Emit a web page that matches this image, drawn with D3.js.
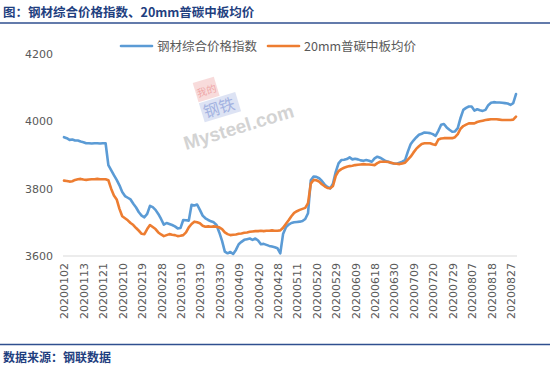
<!DOCTYPE html>
<html><head><meta charset="utf-8">
<script src="https://cdn.jsdelivr.net/npm/d3@7"></script>
<style>
body{margin:0;background:#fff;}
svg{display:block;}
</style></head>
<body><svg id="c" width="550" height="369"></svg>
<script>
const dates = ["20200102","20200103","20200106","20200107","20200108","20200109","20200110","20200113","20200114","20200115","20200116","20200117","20200119","20200120","20200121","20200122","20200123","20200204","20200205","20200206","20200207","20200210","20200211","20200212","20200213","20200214","20200217","20200218","20200219","20200220","20200221","20200224","20200225","20200226","20200227","20200228","20200302","20200303","20200304","20200305","20200306","20200309","20200310","20200311","20200312","20200313","20200316","20200317","20200318","20200319","20200320","20200323","20200324","20200325","20200326","20200327","20200330","20200331","20200401","20200402","20200403","20200407","20200408","20200409","20200410","20200413","20200414","20200415","20200416","20200417","20200420","20200421","20200422","20200423","20200424","20200426","20200427","20200428","20200429","20200430","20200506","20200507","20200508","20200509","20200511","20200512","20200513","20200514","20200515","20200518","20200519","20200520","20200521","20200522","20200525","20200526","20200527","20200528","20200529","20200601","20200602","20200603","20200604","20200605","20200608","20200609","20200610","20200611","20200612","20200615","20200616","20200617","20200618","20200619","20200622","20200623","20200624","20200628","20200629","20200630","20200701","20200702","20200703","20200706","20200707","20200708","20200709","20200710","20200713","20200714","20200715","20200716","20200717","20200720","20200721","20200722","20200723","20200724","20200727","20200728","20200729","20200730","20200731","20200803","20200804","20200805","20200806","20200807","20200810","20200811","20200812","20200813","20200814","20200817","20200818","20200819","20200820","20200821","20200824","20200825","20200826","20200827","20200828","20200831"];

const steelIndex = [3953,3950,3945,3946,3943,3943,3940,3938,3935,3935,3934,3935,3935,3934,3935,3935,3870,3855,3840,3826,3810,3790,3778,3773,3768,3755,3744,3730,3720,3715,3725,3749,3745,3737,3725,3710,3693,3698,3695,3692,3688,3682,3683,3707,3706,3705,3752,3750,3753,3737,3720,3712,3707,3703,3700,3692,3670,3645,3613,3608,3612,3606,3618,3635,3642,3648,3650,3652,3648,3652,3646,3635,3636,3633,3630,3628,3626,3623,3608,3665,3685,3693,3698,3700,3701,3702,3704,3710,3727,3825,3836,3835,3831,3823,3812,3805,3801,3815,3850,3875,3885,3886,3888,3893,3887,3889,3887,3884,3883,3885,3883,3880,3890,3895,3892,3887,3882,3880,3876,3875,3874,3877,3880,3885,3910,3932,3943,3952,3960,3963,3967,3966,3965,3962,3957,3972,3990,3992,3982,3975,3969,3970,3980,4010,4034,4040,4044,4044,4032,4036,4033,4031,4034,4048,4055,4057,4056,4056,4055,4054,4053,4049,4054,4081];

const plateAvg = [3824,3823,3821,3822,3826,3828,3829,3827,3826,3827,3828,3828,3829,3828,3828,3828,3825,3800,3780,3768,3740,3718,3712,3706,3698,3692,3683,3675,3666,3665,3680,3692,3686,3680,3670,3664,3659,3662,3665,3663,3662,3659,3660,3662,3670,3685,3695,3702,3700,3697,3690,3687,3688,3687,3688,3687,3685,3680,3670,3665,3662,3663,3664,3666,3667,3669,3670,3672,3673,3674,3674,3675,3674,3675,3675,3676,3675,3675,3676,3684,3695,3706,3718,3728,3733,3737,3740,3743,3757,3815,3826,3825,3821,3813,3807,3802,3801,3808,3838,3852,3858,3862,3865,3867,3868,3870,3871,3872,3873,3872,3872,3871,3870,3876,3880,3880,3880,3879,3877,3875,3874,3873,3875,3877,3886,3895,3907,3918,3926,3933,3935,3935,3935,3932,3930,3946,3949,3950,3950,3950,3950,3953,3962,3978,3986,3990,3994,3994,3994,3998,4000,4002,4004,4005,4006,4006,4006,4005,4004,4004,4004,4004,4005,4014];

const seriesNames = ["钢材综合价格指数","20mm普碳中板均价"];
const seriesColors = ["#5b9bd5","#ed7d31"];
const xTickLabels = ["20200102","20200113","20200121","20200210","20200219","20200228","20200310","20200319","20200330","20200409","20200420","20200428","20200511","20200520","20200529","20200609","20200618","20200630","20200709","20200720","20200729","20200807","20200818","20200827"];
const yTicks = [3600,3800,4000,4200];
const titleText = "图：钢材综合价格指数、20mm普碳中板均价";
const sourceText = "数据来源：钢联数据";

const svg = d3.select("#c");
const navy = "#1f3f7f";

// title
svg.append("text").attr("x",3).attr("y",17).text(titleText)
  .attr("font-family","'Noto Sans CJK SC',sans-serif").attr("font-weight","bold")
  .attr("font-size","12.5px").attr("fill",navy);
svg.append("line").attr("x1",0).attr("x2",550).attr("y1",23).attr("y2",23)
  .attr("stroke","#2f4f8f").attr("stroke-width",1.6);
// footer
svg.append("line").attr("x1",0).attr("x2",550).attr("y1",344.5).attr("y2",344.5)
  .attr("stroke","#2f4f8f").attr("stroke-width",1.6);
svg.append("text").attr("x",3).attr("y",362).text(sourceText)
  .attr("font-family","'Noto Sans CJK SC',sans-serif").attr("font-weight","bold")
  .attr("font-size","12px").attr("fill",navy);

const x = d3.scalePoint().domain(dates).range([64,516]);
const y = d3.scaleLinear().domain([3600,4200]).range([256,54]);

// watermark
const wm = svg.append("g").attr("transform","translate(186,150) rotate(-17)").attr("opacity",0.5);
wm.append("rect").attr("x",26).attr("y",-62).attr("width",22).attr("height",20).attr("fill","#f2b8b8");
wm.append("text").attr("x",27).attr("y",-47).text("我的").attr("font-size","10px").attr("fill","#e05050").attr("font-family","'Noto Sans CJK SC'");
wm.append("rect").attr("x",26).attr("y",-41).attr("width",38).attr("height",20).attr("fill","#bcc8ea");
wm.append("text").attr("x",28).attr("y",-25).text("钢铁").attr("font-size","16px").attr("fill","#4a68c4").attr("font-family","'Noto Sans CJK SC'");
wm.append("text").attr("x",0).attr("y",0).text("Mysteel.com").attr("font-size","19px")
  .attr("fill","#a8a8a8").attr("font-family","'Liberation Sans',sans-serif").attr("font-weight","bold");

// y axis labels
const yAxis = d3.axisLeft(y).tickValues(yTicks).tickSize(0).tickPadding(10).tickFormat(d3.format("d"));
const gy = svg.append("g").attr("transform","translate(63,0)").call(yAxis);
gy.select(".domain").remove();
gy.selectAll("text").attr("font-family","'DejaVu Sans',sans-serif").attr("font-size","11px").attr("fill","#595959");

// x axis
const xAxis = d3.axisBottom(x).tickValues(xTickLabels).tickSize(0);
const gx = svg.append("g").attr("transform","translate(0,256)").call(xAxis);
gx.select(".domain").remove();
gx.selectAll("text").attr("transform","rotate(-90)").attr("text-anchor","end")
  .attr("x",-7).attr("y",0).attr("dy","0.36em")
  .attr("font-family","'DejaVu Sans',sans-serif").attr("font-size","11px").attr("fill","#595959");
svg.append("line").attr("x1",63).attr("x2",517).attr("y1",256).attr("y2",256)
  .attr("stroke","#d9d9d9").attr("stroke-width",1);

// lines
const line = d3.line().x((d,i)=>x(dates[i])).y(d=>y(d)).curve(d3.curveLinear);
[steelIndex, plateAvg].forEach((s,k)=>{
  svg.append("path").datum(s).attr("d",line).attr("fill","none")
    .attr("stroke",seriesColors[k]).attr("stroke-width",2.6).attr("stroke-linejoin","round").attr("stroke-linecap","round");
});

// legend
const legX = [121,268];
seriesNames.forEach((n,k)=>{
  svg.append("line").attr("x1",legX[k]).attr("x2",legX[k]+31).attr("y1",46).attr("y2",46)
    .attr("stroke",seriesColors[k]).attr("stroke-width",2.6).attr("stroke-linecap","round");
  svg.append("text").attr("x",legX[k]+36).attr("y",50.5).text(n)
    .attr("font-family","'Noto Sans CJK SC',sans-serif").attr("font-size","12.5px").attr("fill","#595959");
});
</script></body></html>
